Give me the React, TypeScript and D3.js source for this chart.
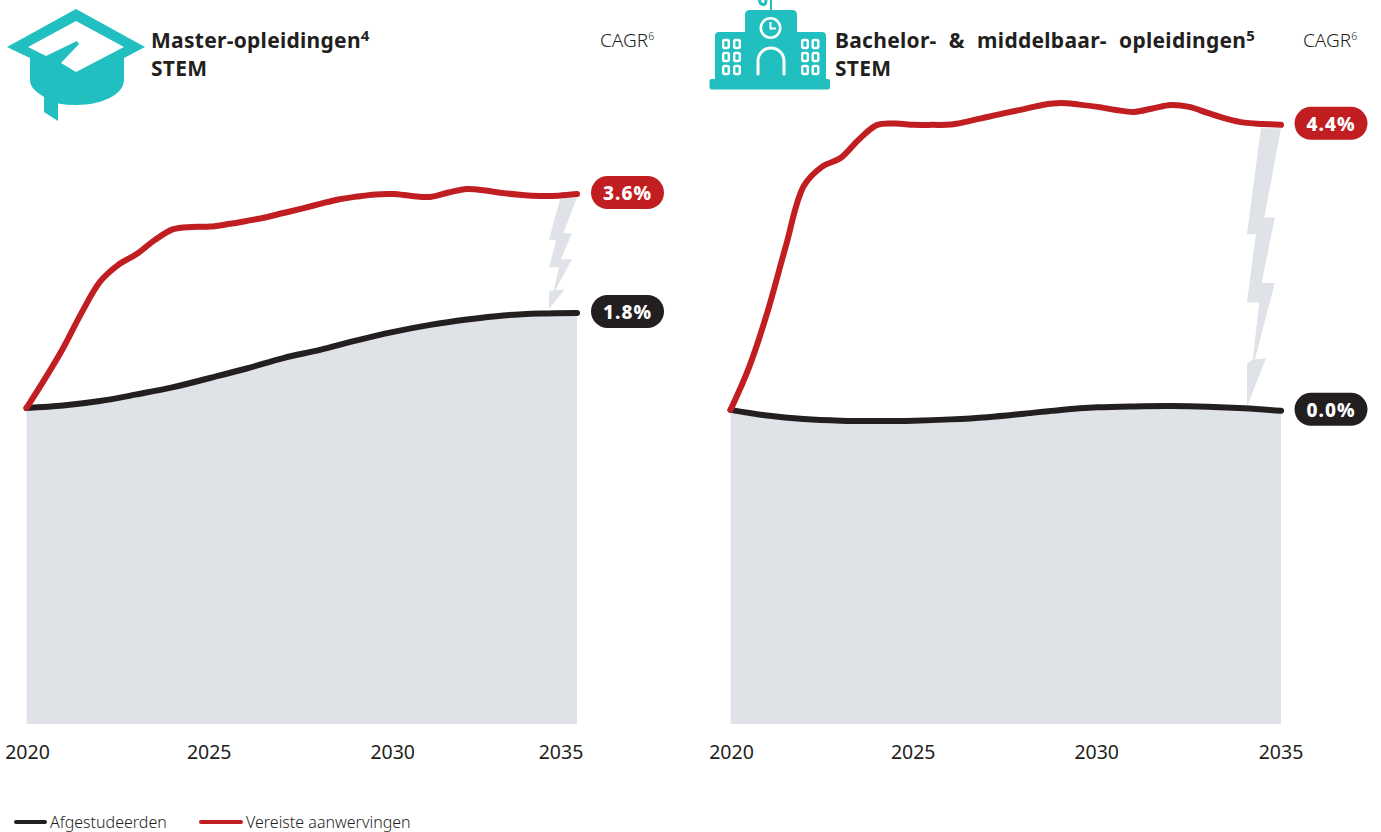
import React from "react";
import * as d3 from "d3";

// Half-yearly index values (2020 = 100) for required hires, yearly for graduates.
const halfYears = d3.range(2020, 2035.5, 0.5);
const years = d3.range(2020, 2036, 1);
const tickYears = [2020, 2025, 2030, 2035];

const masterHires = [100, 109.2, 119.0, 130.1, 139.9, 145.3, 148.7, 153.2, 156.6, 157.3, 157.4, 158.2, 159.2, 160.3, 161.7, 163.1, 164.6, 166.0, 166.9, 167.6, 167.7, 167.1, 166.8, 168.2, 169.3, 168.8, 168.0, 167.4, 167.1, 167.2, 167.7];
const masterGraduates = [100, 100.8, 102.2, 104.3, 106.6, 109.5, 112.5, 115.8, 118.4, 121.4, 124.1, 126.3, 128.0, 129.3, 129.9, 130.1];
const bachelorHires = [99.4, 112.7, 130.1, 150.9, 170.3, 176.4, 179.1, 185.0, 189.6, 190.0, 189.6, 189.6, 189.7, 190.8, 192.1, 193.4, 194.6, 195.9, 196.5, 196.0, 195.3, 194.3, 193.7, 194.8, 195.9, 195.3, 193.4, 191.6, 190.3, 189.9, 189.6];
const bachelorGraduates = [99.4, 97.6, 96.5, 96.0, 95.9, 96.0, 96.4, 97.1, 98.2, 99.4, 100.2, 100.5, 100.6, 100.4, 99.9, 99.1];

const RED = "#c11e22";
const BLACK = "#231f20";
const GREY = "#dfe2e7";
const TEAL = "#21bfbf";
const FONT = "'Noto Sans', sans-serif";

// Lightning bolt outline, normalised to its bounding box.
const boltShape: [number, number][] = [
  [0.41, 0], [1, 0], [0.51, 0.32], [0.82, 0.32], [0.43, 0.555], [0.82, 0.555],
  [0.23, 0.83], [0.56, 0.825], [0, 1], [0, 0.845], [0.17, 0.83], [0.36, 0.625],
  [0, 0.625], [0.26, 0.38], [0, 0.38],
];

const yScale = d3.scaleLinear().domain([0, 100]).range([724, 408]);

type PanelProps = {
  left: number;
  right: number;
  hires: number[];
  graduates: number[];
  hiresCagr: string;
  graduatesCagr: string;
  boltWidth: number;
  lastTickShift: number;
  pillX: number;
};

function Panel({ left, right, hires, graduates, hiresCagr, graduatesCagr, boltWidth, lastTickShift, pillX }: PanelProps) {
  const x = d3.scaleLinear().domain([2020, 2035]).range([left, right]);
  const line = (xs: number[]) =>
    d3.line<number>()
      .x((_, i) => x(xs[i]))
      .y((d) => yScale(d))
      .curve(d3.curveCatmullRom.alpha(0.5));
  const area = d3.area<number>()
    .x((_, i) => x(years[i]))
    .y0(yScale(0))
    .y1((d) => yScale(d))
    .curve(d3.curveCatmullRom.alpha(0.5));

  const hiresEnd = yScale(hires[hires.length - 1]);
  const gradEnd = yScale(graduates[graduates.length - 1]);

  // The bolt spans the gap between the two series at the last year.
  const boltTop = hiresEnd + 3.5;
  const boltBottom = gradEnd - 4;
  const boltX = right - boltWidth;
  const bolt = d3.line<[number, number]>()
    .x((d) => boltX + d[0] * boltWidth)
    .y((d) => boltTop + d[1] * (boltBottom - boltTop));

  const pills = [
    { y: hiresEnd - 1.5, fill: RED, label: hiresCagr },
    { y: gradEnd - 1.5, fill: BLACK, label: graduatesCagr },
  ];

  // First and last labels are pulled inward slightly; the last one can be shifted per panel.
  const tickX = (t: number, i: number) => {
    if (i === 0) return x(t) + 1;
    if (i === tickYears.length - 1) return x(t) + lastTickShift;
    return x(t) - 0.8;
  };

  return (
    <g>
      <path d={area(graduates) ?? ""} fill={GREY} />
      <path d={bolt(boltShape) + "Z"} fill={GREY} />
      <path d={line(years)(graduates) ?? ""} fill="none" stroke={BLACK} strokeWidth={6} strokeLinecap="round" />
      <path d={line(halfYears)(hires) ?? ""} fill="none" stroke={RED} strokeWidth={6} strokeLinecap="round" />
      {pills.map((p) => (
        <g key={p.label + p.fill}>
          <rect x={pillX} y={p.y - 16.5} width={73} height={33} rx={16.5} fill={p.fill} />
          <text x={pillX + 36.5} y={p.y + 7.5} textAnchor="middle" fill="#fff" fontFamily={FONT} fontWeight={800} fontSize={19} letterSpacing={1}>
            {p.label}
          </text>
        </g>
      ))}
      {tickYears.map((t, i) => (
        <text key={t} x={tickX(t, i)} y={759} textAnchor="middle" fill={BLACK} fontFamily={FONT} fontSize={19.5}>
          {t}
        </text>
      ))}
    </g>
  );
}

function Title({ x, text, note, cagrX }: { x: number; text: string; note: string; cagrX: number }) {
  return (
    <g fill={BLACK} fontFamily={FONT}>
      <text x={x} y={48} fontWeight={700} fontSize={21} letterSpacing={0.28} wordSpacing={6.5}>
        {text}
        <tspan fontSize={15} dy={-7}>{note}</tspan>
      </text>
      <text x={x} y={76} fontWeight={700} fontSize={21} letterSpacing={0.28}>STEM</text>
      <text x={cagrX} y={47} fontSize={19} fontWeight={300}>
        CAGR
        <tspan fontSize={10.5} dy={-7}>6</tspan>
      </text>
    </g>
  );
}

function CapIcon() {
  return (
    <g>
      <path d="M7 47 L76 9 L145 47 L124 58 L124 80 C124 94 103 105 76 105 C70 105 64 104.5 58 103.5 L58 121 L44 112 L44 97 C36 92 30 87 30 80 L30 58 Z" fill={TEAL} />
      <path d="M76 21 L124 47 L76 72 L61 63 L79 44 L77 41 L46 56 L28 47 Z" fill="#fff" />
    </g>
  );
}

function SchoolIcon() {
  const windowCols = [726, 737, 805, 815.5];
  const windowRows = [44, 57, 70];
  return (
    <g>
      <path d="M771 0 L771 11" fill="none" stroke={TEAL} strokeWidth={2} />
      <path d="M759.5 0 Q759.5 4 763 4.5 Q766 5 766 0" fill="none" stroke={TEAL} strokeWidth={3} />
      <path d="M745 79 L745 15 Q745 10 750 10 L792 10 Q797 10 797 15 L797 79 Z" fill={TEAL} />
      <rect x={715} y={32} width={32} height={50} rx={4} fill={TEAL} />
      <rect x={795} y={32} width={31} height={50} rx={4} fill={TEAL} />
      <rect x={709.5} y={79} width={120.5} height={10.5} rx={2} fill={TEAL} />
      <circle cx={770.5} cy={28} r={9.7} fill="none" stroke="#fff" strokeWidth={2.6} />
      <path d="M770.5 22 L770.5 28.5 L776 28.5" fill="none" stroke="#fff" strokeWidth={2} />
      <path d="M758 74 L758 61 A13 13 0 0 1 784 61 L784 74" fill="none" stroke="#fff" strokeWidth={3} strokeLinecap="round" />
      {windowCols.flatMap((cx) =>
        windowRows.map((cy) => (
          <rect key={`${cx}-${cy}`} x={cx - 2.8} y={cy - 4} width={5.6} height={8} rx={1.4} fill={TEAL} stroke="#fff" strokeWidth={2.4} />
        ))
      )}
    </g>
  );
}

const legendItems = [
  { label: "Afgestudeerden", color: BLACK, x0: 16, x1: 45, tx: 50 },
  { label: "Vereiste aanwervingen", color: RED, x0: 201, x1: 241, tx: 246 },
];

export default function App() {
  return (
    <svg width={1381} height={832} viewBox="0 0 1381 832" style={{ position: "absolute", left: 0, top: 0, background: "#fff" }}>
      <CapIcon />
      <SchoolIcon />
      <Title x={151} text="Master-opleidingen" note="4" cagrX={600} />
      <Title x={835} text="Bachelor- & middelbaar- opleidingen" note="5" cagrX={1303} />
      <Panel left={26.5} right={577} hires={masterHires} graduates={masterGraduates} hiresCagr="3.6%" graduatesCagr="1.8%" boltWidth={28} lastTickShift={-16} pillX={591} />
      <Panel left={730.5} right={1281} hires={bachelorHires} graduates={bachelorGraduates} hiresCagr="4.4%" graduatesCagr="0.0%" boltWidth={34} lastTickShift={0} pillX={1294.5} />
      {legendItems.map((l) => (
        <g key={l.label}>
          <line x1={l.x0} x2={l.x1} y1={822} y2={822} stroke={l.color} strokeWidth={4} strokeLinecap="round" />
          <text x={l.tx} y={828} fill={BLACK} fontFamily={FONT} fontSize={16} fontWeight={300}>{l.label}</text>
        </g>
      ))}
    </svg>
  );
}
